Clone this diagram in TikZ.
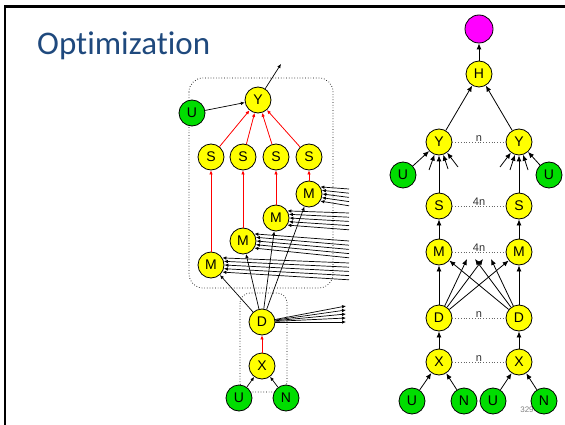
\documentclass[tikz,border=0pt]{standalone}
\usepackage{fontspec}
\setmainfont{Liberation Sans}
\newfontfamily\titlefont[Ligatures=NoCommon]{Carlito}
\usetikzlibrary{arrows.meta,calc}
\definecolor{titleblue}{RGB}{31,73,125}
\definecolor{ylw}{RGB}{255,255,0}
\definecolor{grn}{RGB}{0,221,0}
\definecolor{mag}{RGB}{255,0,255}
\definecolor{lblgray}{RGB}{50,50,50}
\tikzset{
  vnode/.style={circle,draw=black,line width=0.8pt,minimum size=26pt,inner sep=0pt,font=\fontsize{14}{14}\selectfont},
  yn/.style={vnode,fill=ylw},
  gn/.style={vnode,fill=grn},
  mn/.style={vnode,fill=mag,minimum size=28pt},
  sarr/.style={-{Latex[length=4pt,width=3.5pt]},line width=0.7pt},
  rarr/.style={-{Latex[length=4pt,width=3.5pt]},draw=red,fill=red,line width=0.75pt},
  barr/.style={-{Latex[length=6pt,width=5pt]},line width=0.8pt},
  dotbox/.style={draw,dotted,line width=0.7pt,rounded corners=14pt},
  pair/.style={draw=gray!80!black,dotted,line width=0.8pt},
  plbl/.style={font=\fontsize{11}{11}\selectfont,text=lblgray,inner sep=0.3pt,anchor=south}
}
\begin{document}
\begin{tikzpicture}[x=1pt,y=-1pt]
\useasboundingbox (0,0) rectangle (565,425);
% frame
\draw[line width=3pt] (4,7) -- (565,7);
\draw[line width=2.5pt] (5,5.5) -- (5,425);
\node[anchor=base west,inner sep=0pt,text=titleblue,font=\titlefont\fontsize{33}{33}\selectfont] (title) at (37,55) {Optimization};
\node[font=\fontsize{8}{8}\selectfont,text=gray,inner sep=0pt] (pg) at (527,410) {329};
% ---------------- left diagram ----------------
\draw[dotbox] (189,78) rectangle (333,288);
\draw[dotbox,rounded corners=10pt] (240,293) rectangle (287,392);
\node[yn] (Y) at (258,100) {Y};
\node[gn] (U) at (192,113) {U};
\coordinate (yout) at (281,64);
\foreach \i/\x in {1/211,2/243,3/276,4/309} {\node[yn] (S\i) at (\x,157) {S};}
\node[yn] (M1) at (211,265) {M};
\node[yn] (M2) at (243,241) {M};
\node[yn] (M3) at (276,218) {M};
\node[yn] (M4) at (309,194) {M};
\node[yn] (D) at (262,322) {D};
\node[yn] (X) at (262,366) {X};
\node[gn] (UL) at (239,398) {U};
\node[gn] (NL) at (286,398) {N};
\draw[sarr] (U) -- (Y);
\draw[sarr] (Y) -- (yout);
\foreach \i in {1,...,4} {
  \draw[sarr] (D) -- (M\i);
  \draw[rarr] (S\i) -- (Y);
  \draw[rarr] (M\i) -- (S\i);
}
\draw[rarr] (X) -- (D);
\draw[sarr] (UL) -- (X);
\draw[sarr] (NL) -- (X);
% incoming lines from the right into each M
\foreach \m/\cy in {1/263,2/241,3/213,4/189} {
  \foreach \k/\a in {0/32,1/16,2/0,3/-16,4/-32} {
    \pgfmathsetmacro{\yy}{\cy+4.2*\k}
    \coordinate (src\m\k) at (349,\yy);
    \draw[sarr] (src\m\k) -- (M\m.\a);
  }
}
% outgoing lines from D to the right
\foreach \k/\yy in {0/306,1/310,2/314,3/318,4/322} {
  \coordinate (dout\k) at (346,\yy);
  \draw[sarr] (D) -- (dout\k);
}
% ---------------- right diagram ----------------
\node[mn] (P) at (479,29) {};
\node[yn] (H) at (479,74) {H};
\node[yn] (YA) at (439,142) {Y};
\node[yn] (YB) at (519,142) {Y};
\node[gn] (UA) at (403,175) {U};
\node[gn] (UB) at (549,175) {U};
\node[yn] (SA) at (439,206) {S};
\node[yn] (SB) at (519,206) {S};
\node[yn] (MA) at (439,252) {M};
\node[yn] (MB) at (519,252) {M};
\node[yn] (DA) at (439,318) {D};
\node[yn] (DB) at (519,318) {D};
\node[yn] (XA) at (439,362) {X};
\node[yn] (XB) at (519,362) {X};
\node[gn] (U1) at (412,401) {U};
\node[gn] (N1) at (464,401) {N};
\node[gn] (U2) at (493,401) {U};
\node[gn] (N2) at (544,401) {N};
\draw[barr] (H) -- (P);
\draw[barr] (YA) -- (H);
\draw[barr] (YB) -- (H);
\draw[barr] (UA) -- (YA);
\draw[barr] (UB) -- (YB);
\draw[barr] (SA) -- (YA);
\draw[barr] (SB) -- (YB);
\draw[barr] (MA) -- (SA);
\draw[barr] (MB) -- (SB);
\draw[barr] (DA) -- (MA);
\draw[barr] (DB) -- (MB);
\draw[barr] (DA) -- (MB);
\draw[barr] (DB) -- (MA);
\draw[barr] (XA) -- (DA);
\draw[barr] (XB) -- (DB);
\draw[barr] (U1) -- (XA);
\draw[barr] (N1) -- (XA);
\draw[barr] (U2) -- (XB);
\draw[barr] (N2) -- (XB);
% stubs into Y
\foreach \n/\dx/\dy in {1/-10/28,2/9/27,3/19/25} {
  \coordinate (ya\n) at ($(YA)+(\dx,\dy)$);
  \draw[barr] (ya\n) -- (YA);
}
\foreach \n/\dx/\dy in {1/-19/25,2/-9/28,3/9/28} {
  \coordinate (yb\n) at ($(YB)+(\dx,\dy)$);
  \draw[barr] (yb\n) -- (YB);
}
% stubs from D towards the M gap
\coordinate (da1) at (467,259);
\coordinate (da2) at (483,259);
\coordinate (db1) at (475,259);
\coordinate (db2) at (491,259);
\draw[barr] (DA) -- (da1);
\draw[barr] (DA) -- (da2);
\draw[barr] (DB) -- (db1);
\draw[barr] (DB) -- (db2);
% dotted pair connectors
\foreach \a/\b/\t in {YA/YB/n,SA/SB/4n,MA/MB/4n,DA/DB/n,XA/XB/n} {
  \draw[pair] (\a) -- node[plbl] {\t} (\b);
}
\end{tikzpicture}
\end{document}
